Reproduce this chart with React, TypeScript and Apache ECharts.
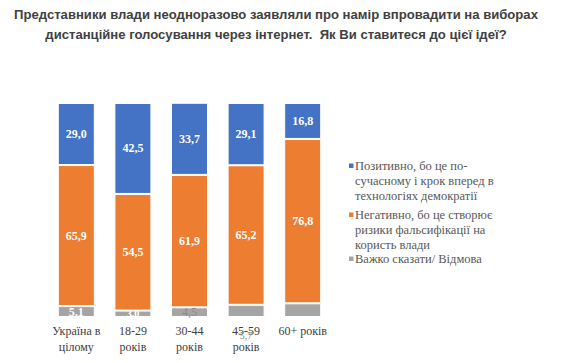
import React, { useEffect, useRef } from "react";
import * as echarts from "echarts";

const titleText =
  "Представники влади неодноразово заявляли про намір впровадити на виборах\nдистанційне голосування через інтернет.  Як Ви ставитеся до цієї ідеї?";
const categories = ["Україна в\nцілому", "18-29\nроків", "30-44\nроків", "45-59\nроків", "60+ років"];
const seriesNames = [
  "Позитивно, бо це по-\nсучасному і крок вперед в\nтехнологіях демократії",
  "Негативно, бо це створює\nризики фальсифікації на\nкористь влади",
  "Важко сказати/ Відмова",
];
const positive = [29.0, 42.5, 33.7, 29.1, 16.8];
const negative = [65.9, 54.5, 61.9, 65.2, 76.8];
const hardToSay = [5.1, 3.0, 4.5, 5.7, 6.4];
const colors = ["#4472c4", "#ed7d31", "#a5a5a5"];

const fmt = (v: number) => v.toFixed(1).replace(".", ",");
const SERIF = "'Liberation Serif', 'DejaVu Serif', serif";
const SANS = "'Liberation Sans', Arial, sans-serif";

export default function App() {
  const ref = useRef<HTMLDivElement>(null);
  useEffect(() => {
    if (!ref.current) return;
    const chart = echarts.init(ref.current, null, { renderer: "svg" });
    const valueLabel = {
      show: true,
      position: "inside" as const,
      color: "#ffffff",
      fontFamily: SERIF,
      fontWeight: "bold" as const,
      fontSize: 12,
      formatter: (p: any) => fmt(p.value),
    };
    const grayData = hardToSay.map((v, i) => {
      if (i === 2) {
        return { value: v, label: { show: true, color: "#8a8a8a", fontWeight: "normal" } };
      }
      if (i === 3) {
        return {
          value: v,
          label: { show: true, position: "bottom", distance: 13, color: "#8a8a8a", fontWeight: "normal", fontSize: 10 },
        };
      }
      if (i === 4) {
        return { value: v, label: { show: false } };
      }
      if (i === 1) {
        return { value: v, label: { show: true, fontSize: 10 } };
      }
      return { value: v };
    });

    const legendTops = [166, 215, 259];
    const lineH = 15;
    const graphic: any[] = [
      {
        type: "text",
        x: 276,
        y: 4,
        style: {
          text: titleText,
          fill: "#404040",
          fontFamily: SANS,
          fontWeight: "bold",
          fontSize: 13.1,
          lineHeight: 20,
          textAlign: "center",
          textVerticalAlign: "top",
        },
      },
    ];
    seriesNames.forEach((name, i) => {
      graphic.push({
        type: "rect",
        shape: { x: 349, y: legendTops[i] - 2.5, width: 4.5, height: 4.5 },
        style: { fill: colors[i] },
      });
      graphic.push({
        type: "text",
        x: 355,
        y: legendTops[i] - lineH / 2,
        style: {
          text: name,
          fill: "#595959",
          fontFamily: SERIF,
          fontSize: 12.5,
          lineHeight: lineH,
          textVerticalAlign: "top",
        },
      });
    });

    chart.setOption({
      animation: false,
      grid: { left: 48, right: 247, top: 103, bottom: 46 },
      xAxis: {
        type: "category",
        data: categories,
        axisLine: { show: false },
        axisTick: { show: false },
        axisLabel: {
          interval: 0,
          margin: 6,
          fontFamily: SERIF,
          fontSize: 12,
          lineHeight: 16,
          color: "#404040",
        },
      },
      yAxis: { type: "value", min: 0, max: 100, show: false },
      graphic,
      series: [
        {
          name: seriesNames[2],
          type: "bar",
          stack: "t",
          barWidth: 37,
          data: grayData,
          itemStyle: { color: colors[2], borderColor: "#ffffff", borderWidth: 1 },
          label: valueLabel,
        },
        {
          name: seriesNames[1],
          type: "bar",
          stack: "t",
          barWidth: 37,
          data: negative,
          itemStyle: { color: colors[1], borderColor: "#ffffff", borderWidth: 1 },
          label: valueLabel,
        },
        {
          name: seriesNames[0],
          type: "bar",
          stack: "t",
          barWidth: 37,
          data: positive,
          itemStyle: { color: colors[0], borderColor: "#ffffff", borderWidth: 1 },
          label: valueLabel,
        },
      ],
    });
    return () => chart.dispose();
  }, []);
  return (
    <div
      ref={ref}
      style={{ position: "fixed", left: 0, top: 0, width: 578, height: 363, background: "#ffffff" }}
    />
  );
}
